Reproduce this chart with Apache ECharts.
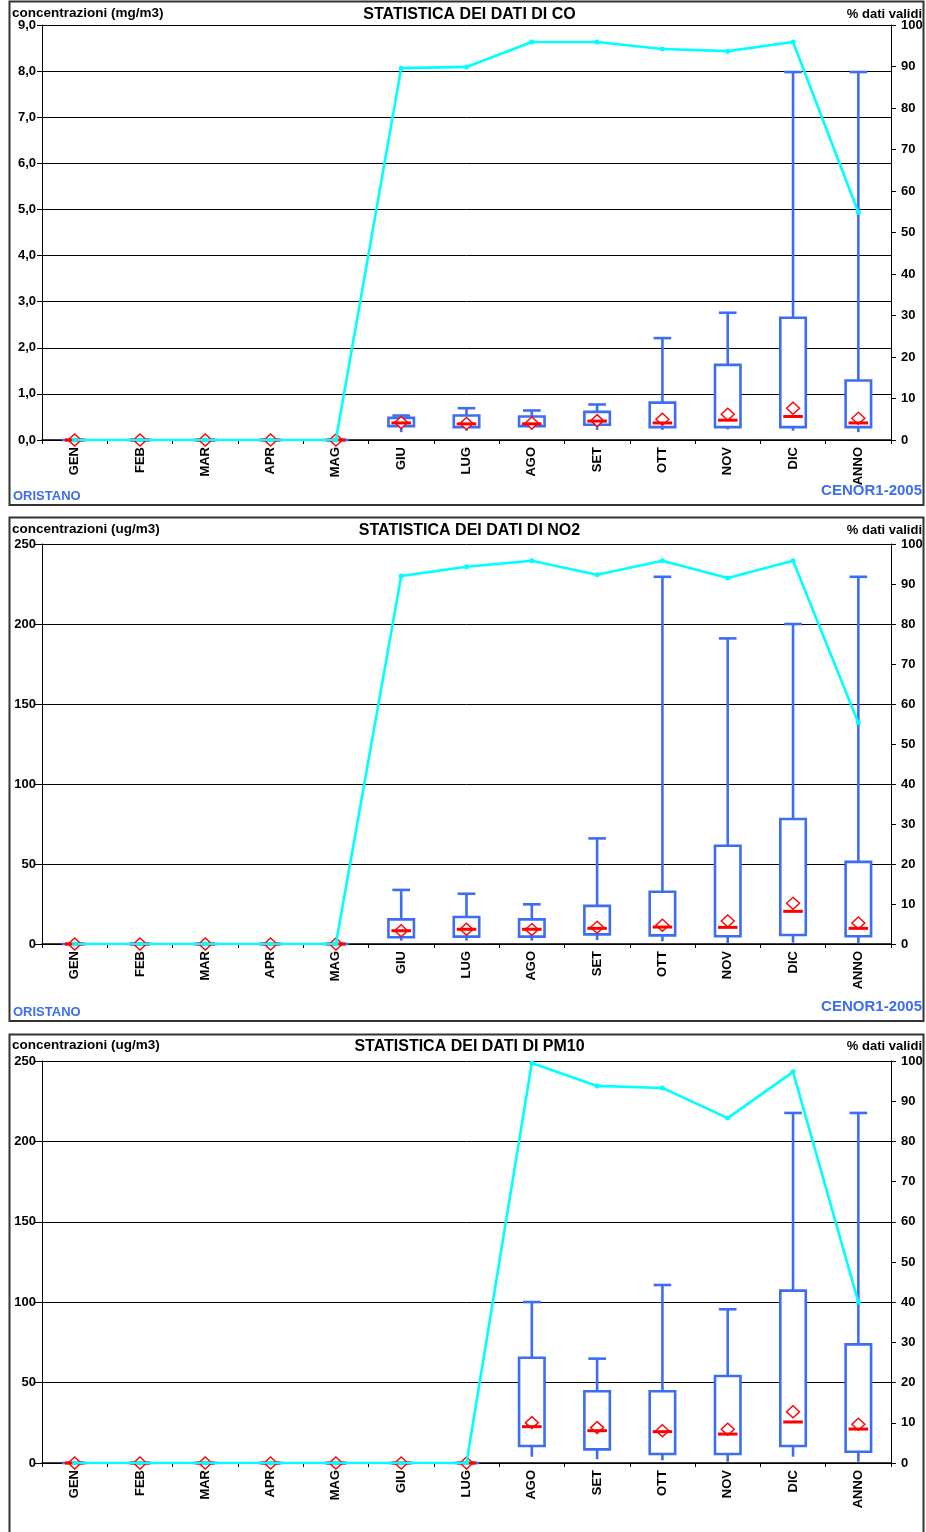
<!DOCTYPE html>
<html><head><meta charset="utf-8">
<script src="https://cdn.jsdelivr.net/npm/echarts@6/dist/echarts.min.js"></script>
<style>html,body{margin:0;padding:0;background:#fff}#c{width:926px;height:1532px}</style>
</head><body><div id="c"></div>
<script>
const categories = ['GEN','FEB','MAR','APR','MAG','GIU','LUG','AGO','SET','OTT','NOV','DIC','ANNO'];

// CO (mg/m3)
const coMin    = [0,0,0,0,0,0.17,0.20,0.23,0.22,0.22,0.23,0.20,0.17];
const coQ1     = [0,0,0,0,0,0.30,0.28,0.30,0.33,0.28,0.28,0.28,0.28];
const coMedian = [0,0,0,0,0,0.37,0.35,0.35,0.41,0.37,0.43,0.51,0.37];
const coQ3     = [0,0,0,0,0,0.48,0.53,0.51,0.61,0.81,1.63,2.65,1.29];
const coMax    = [0,0,0,0,0,0.53,0.69,0.64,0.77,2.21,2.76,7.98,7.98];
const coMean   = [0,0,0,0,0,0.38,0.36,0.37,0.42,0.45,0.56,0.69,0.47];
const coValid  = [0,0,0,0,0,89.6,89.9,95.9,95.9,94.2,93.7,95.9,54.9];

// NO2 (ug/m3)
const no2Min    = [0,0,0,0,0,2.1,2.1,2.1,2.5,1.7,0.5,0.8,0.5];
const no2Q1     = [0,0,0,0,0,4.2,4.6,4.6,6.0,5.4,4.8,5.6,4.8];
const no2Median = [0,0,0,0,0,8.3,9.2,9.2,9.8,10.6,10.4,20.4,9.8];
const no2Q3     = [0,0,0,0,0,15.4,16.9,15.4,23.8,32.7,61.4,78.1,51.3];
const no2Max    = [0,0,0,0,0,33.8,31.4,24.8,66.0,229.5,191,200,229.5];
const no2Mean   = [0,0,0,0,0,8.3,9.2,9.0,10.4,11.7,14.4,25.4,13.1];
const no2Valid  = [0,0,0,0,0,92.0,94.3,95.8,92.3,95.8,91.5,95.8,55.3];

// PM10 (ug/m3)
const pmMin    = [0,0,0,0,0,0,0,3.9,2.3,1.7,0.8,3.9,0.8];
const pmQ1     = [0,0,0,0,0,0,0,10.6,8.5,5.6,5.6,10.6,7.0];
const pmMedian = [0,0,0,0,0,0,0,22.6,20.1,19.5,18.0,25.5,21.1];
const pmQ3     = [0,0,0,0,0,0,0,65.5,44.6,44.6,54.1,107.2,73.8];
const pmMax    = [0,0,0,0,0,0,0,100.1,64.9,110.7,95.6,217.7,217.7];
const pmMean   = [0,0,0,0,0,0,0,25.1,22.0,20.1,21.0,31.9,24.1];
const pmValid  = [0,0,0,0,0,0,0,99.5,93.8,93.3,85.8,97.3,40.0];

const titles = ['STATISTICA DEI DATI DI CO','STATISTICA DEI DATI DI NO2','STATISTICA DEI DATI DI PM10'];
const unitLabels = ['concentrazioni (mg/m3)','concentrazioni (ug/m3)','concentrazioni (ug/m3)'];
const rightLabel = '% dati validi';
const stationLabel = 'ORISTANO';
const codeLabel = 'CENOR1-2005';

const FONT = "'Liberation Sans', Arial, sans-serif";
const BLUE = '#3d6df2';
const RED = '#ff0000';
const CYAN = '#00ffff';

const panels = [
  {min:coMin,q1:coQ1,med:coMedian,q3:coQ3,max:coMax,mean:coMean,valid:coValid,
   yMax:9,yInt:1,fmt:v=>v.toFixed(1).replace('.',','),top:25,height:415,tick:5,off:0,foot:true},
  {min:no2Min,q1:no2Q1,med:no2Median,q3:no2Q3,max:no2Max,mean:no2Mean,valid:no2Valid,
   yMax:250,yInt:50,fmt:v=>String(v),top:544,height:400,tick:7,off:516,foot:true},
  {min:pmMin,q1:pmQ1,med:pmMedian,q3:pmQ3,max:pmMax,mean:pmMean,valid:pmValid,
   yMax:250,yInt:50,fmt:v=>String(v),top:1061,height:402,tick:7,off:1032,foot:false}
];

function renderBox(params, api) {
  const x = api.value(0);
  const pMin = api.coord([x, api.value(1)]);
  const pQ1 = api.coord([x, api.value(2)]);
  const pMed = api.coord([x, api.value(3)]);
  const pQ3 = api.coord([x, api.value(4)]);
  const pMax = api.coord([x, api.value(5)]);
  const pMean = api.coord([x, api.value(6)]);
  const band = api.size([1, 0])[0];
  const cx = pQ1[0];
  const bw = band * 0.39;
  const capH = band * 0.135;
  const medH = band * 0.15;
  const dw = 6.5, dh = 6;
  const lw = 2.6;
  return {
    type: 'group',
    children: [
      {type:'line', shape:{x1:cx,y1:pQ3[1],x2:cx,y2:pMax[1]}, style:{stroke:BLUE,lineWidth:lw}},
      {type:'line', shape:{x1:cx-capH,y1:pMax[1],x2:cx+capH,y2:pMax[1]}, style:{stroke:BLUE,lineWidth:lw}},
      {type:'line', shape:{x1:cx,y1:pQ1[1],x2:cx,y2:pMin[1]}, style:{stroke:BLUE,lineWidth:lw}},
      {type:'rect', shape:{x:cx-bw/2,y:pQ3[1],width:bw,height:pQ1[1]-pQ3[1]}, style:{fill:'#fff',stroke:BLUE,lineWidth:lw}},
      {type:'polygon', shape:{points:[[cx,pMean[1]-dh],[cx+dw,pMean[1]],[cx,pMean[1]+dh],[cx-dw,pMean[1]]]},
        style:{fill:'#fff',stroke:RED,lineWidth:1.4}},
      {type:'line', shape:{x1:cx-medH,y1:pMed[1],x2:cx+medH,y2:pMed[1]}, style:{stroke:RED,lineWidth:3}}
    ]
  };
}

const grid = [], xAxis = [], yAxis = [], series = [], graphic = [];
const xLabelStyle = {color:'#000', fontFamily:FONT, fontWeight:'bold', fontSize:13};
const yLabelStyle = {color:'#000', fontFamily:FONT, fontWeight:'bold', fontSize:13};

panels.forEach((p, i) => {
  grid.push({left:42, right:35, top:p.top, height:p.height, containLabel:false});
  xAxis.push({
    type:'category', gridIndex:i, data:categories, boundaryGap:true,
    axisLine:{show:true, lineStyle:{color:'#000', width:1.5}},
    axisTick:{show:true, length:4, lineStyle:{color:'#000'}},
    axisLabel:Object.assign({rotate:90, margin:7, interval:0}, xLabelStyle),
    splitLine:{show:false}
  });
  yAxis.push({
    type:'value', gridIndex:i, position:'left', min:0, max:p.yMax, interval:p.yInt,
    axisLine:{show:true, lineStyle:{color:'#000', width:1}},
    axisTick:{show:true, length:p.tick, lineStyle:{color:'#000'}},
    axisLabel:Object.assign({margin:6, formatter:p.fmt}, yLabelStyle),
    splitLine:{show:true, lineStyle:{color:'#000', width:1}}
  });
  yAxis.push({
    type:'value', gridIndex:i, position:'right', min:0, max:100, interval:10,
    axisLine:{show:true, lineStyle:{color:'#000', width:1}},
    axisTick:{show:true, length:5, lineStyle:{color:'#000'}},
    axisLabel:Object.assign({margin:10}, yLabelStyle),
    splitLine:{show:false}
  });
  series.push({
    type:'custom', xAxisIndex:i, yAxisIndex:2*i, z:3,
    renderItem:renderBox,
    data:categories.map((c,k)=>[k, p.min[k], p.q1[k], p.med[k], p.q3[k], p.max[k], p.mean[k]]),
    silent:true
  });
  series.push({
    type:'line', xAxisIndex:i, yAxisIndex:2*i+1, z:5,
    data:p.valid, symbol:'circle', symbolSize:5, showSymbol:true,
    lineStyle:{color:CYAN, width:2.6}, itemStyle:{color:CYAN},
    animation:false, silent:true
  });
  const o = p.off;
  graphic.push({type:'text', x:12, y:13+o, style:{text:unitLabels[i], font:'bold 13.5px '+FONT, fill:'#000', textAlign:'left', textVerticalAlign:'middle'}});
  graphic.push({type:'text', x:469.5, y:15+o, style:{text:titles[i], font:'bold 16px '+FONT, fill:'#000', textAlign:'center', textVerticalAlign:'middle'}});
  graphic.push({type:'text', x:922, y:14+o, style:{text:rightLabel, font:'bold 13px '+FONT, fill:'#000', textAlign:'right', textVerticalAlign:'middle'}});
  if (p.foot) {
    graphic.push({type:'text', x:13, y:496+o, style:{text:stationLabel, font:'bold 13px '+FONT, fill:BLUE, textAlign:'left', textVerticalAlign:'middle'}});
    graphic.push({type:'text', x:922, y:491+o, style:{text:codeLabel, font:'bold 15px '+FONT, fill:BLUE, textAlign:'right', textVerticalAlign:'middle'}});
  }
});

graphic.push({type:'rect', shape:{x:9.5,y:1.5,width:914,height:503.5}, style:{fill:'none',stroke:'#333',lineWidth:2}, z:-10});
graphic.push({type:'rect', shape:{x:9.5,y:517.5,width:914,height:503.5}, style:{fill:'none',stroke:'#333',lineWidth:2}, z:-10});
graphic.push({type:'rect', shape:{x:9.5,y:1034.5,width:914,height:520}, style:{fill:'none',stroke:'#333',lineWidth:2}, z:-10});

const chart = echarts.init(document.getElementById('c'), null, {renderer:'canvas'});
chart.setOption({
  animation:false,
  backgroundColor:'#fff',
  grid, xAxis, yAxis, series, graphic
});
</script>
</body></html>
